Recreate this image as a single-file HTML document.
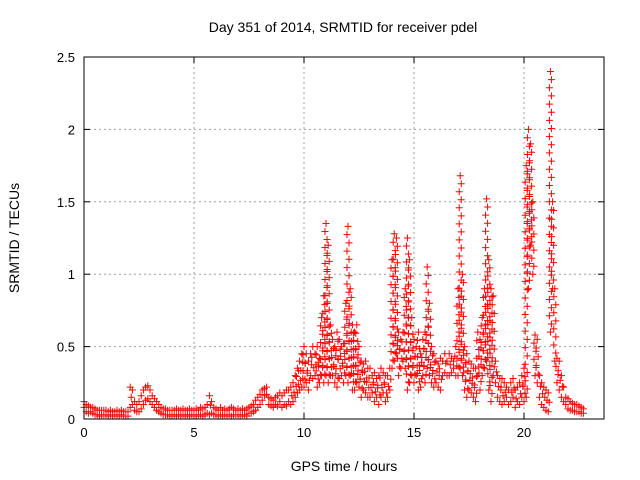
<!DOCTYPE html>
<html><head><meta charset="utf-8"><style>
html,body{margin:0;padding:0;background:#fff}
svg{display:block;font-family:"Liberation Sans",sans-serif}
</style></head><body>
<svg id="c" width="640" height="480">
<text x="343" y="32" font-size="14" text-anchor="middle">Day 351 of 2014, SRMTID for receiver pdel</text>
<text x="344" y="471" font-size="14" text-anchor="middle">GPS time / hours</text>
<text transform="translate(19,238) rotate(-90)" font-size="14" text-anchor="middle">SRMTID / TECUs</text>
<g id="grid"></g><g id="ticks"></g><g id="marks"></g>
<rect x="84" y="57" width="520" height="362" fill="none" stroke="#000"/>
</svg>
<script>
const xTicks=[0,5,10,15,20];
const yTicks=[0,0.5,1,1.5,2,2.5];
const yTickLabels=["0","0.5","1","1.5","2","2.5"];
const tStep=0.1;
const lo=[0.08,0.05,0.04,0.05,0.04,0.03,0.03,0.02,0.03,0.03,
0.03,0.02,0.03,0.02,0.03,0.02,0.02,0.03,0.02,0.02,
0.02,0.08,0.1,0.06,0.05,0.05,0.07,0.1,0.13,0.14,
0.12,0.1,0.08,0.06,0.05,0.04,0.03,0.03,0.03,0.02,
0.02,0.03,0.02,0.03,0.02,0.03,0.02,0.03,0.02,0.03,
0.03,0.02,0.03,0.03,0.02,0.03,0.04,0.03,0.04,0.03,
0.03,0.02,0.03,0.02,0.03,0.02,0.03,0.02,0.03,0.03,
0.03,0.02,0.03,0.03,0.02,0.04,0.04,0.05,0.06,0.08,
0.1,0.13,0.16,0.17,0.1,0.09,0.08,0.1,0.09,0.12,
0.08,0.1,0.09,0.12,0.1,0.12,0.15,0.18,0.2,0.22,
0.22,0.25,0.2,0.3,0.28,0.3,0.22,0.25,0.3,0.25,
0.3,0.25,0.3,0.3,0.25,0.22,0.28,0.3,0.25,0.3,
0.25,0.3,0.2,0.2,0.25,0.22,0.15,0.2,0.18,0.15,
0.15,0.18,0.12,0.15,0.1,0.15,0.18,0.12,0.15,0.2,
0.35,0.4,0.45,0.3,0.35,0.4,0.35,0.2,0.25,0.3,
0.25,0.3,0.2,0.22,0.3,0.25,0.35,0.3,0.25,0.22,
0.25,0.22,0.2,0.3,0.32,0.3,0.3,0.32,0.35,0.3,
0.3,0.35,0.3,0.2,0.15,0.2,0.18,0.15,0.12,0.3,
0.2,0.3,0.35,0.4,0.2,0.12,0.3,0.25,0.15,0.12,
0.1,0.12,0.15,0.1,0.12,0.15,0.08,0.12,0.1,0.15,
0.12,0.15,0.9,1.2,1.0,0.3,0.25,0.15,0.1,0.08,
0.06,0.05,0.6,0.9,0.4,0.25,0.2,0.15,0.12,0.1,
0.07,0.06,0.06,0.05,0.05,0.05,0.04,0.04];
const hi=[0.12,0.1,0.09,0.08,0.08,0.07,0.06,0.06,0.06,0.06,
0.06,0.05,0.06,0.05,0.05,0.06,0.05,0.06,0.05,0.05,
0.05,0.22,0.2,0.12,0.1,0.12,0.16,0.2,0.22,0.23,
0.2,0.16,0.14,0.12,0.1,0.08,0.07,0.07,0.06,0.06,
0.06,0.06,0.07,0.06,0.06,0.07,0.06,0.06,0.07,0.06,
0.06,0.07,0.06,0.08,0.07,0.08,0.1,0.16,0.12,0.08,
0.07,0.06,0.08,0.06,0.07,0.06,0.07,0.08,0.07,0.06,
0.07,0.06,0.07,0.06,0.07,0.08,0.09,0.1,0.13,0.15,
0.17,0.2,0.21,0.22,0.15,0.14,0.13,0.15,0.16,0.18,
0.16,0.18,0.2,0.2,0.22,0.25,0.3,0.35,0.4,0.45,
0.5,0.45,0.4,0.45,0.5,0.45,0.5,0.42,0.7,0.85,
1.35,1.2,0.65,0.55,0.5,0.6,0.55,0.5,0.52,0.8,
1.33,0.9,0.65,0.6,0.65,0.5,0.4,0.38,0.4,0.35,
0.35,0.3,0.32,0.28,0.3,0.35,0.32,0.3,0.3,0.35,
1.1,1.28,1.25,0.6,0.55,0.6,0.9,1.25,1.1,0.7,
0.55,0.5,0.6,0.45,0.55,0.6,1.05,0.8,0.5,0.45,
0.4,0.38,0.42,0.4,0.45,0.4,0.45,0.42,0.4,0.5,
0.9,1.68,1.0,0.5,0.45,0.4,0.38,0.35,0.35,0.6,
0.55,0.7,0.9,1.52,1.1,0.9,0.85,0.4,0.3,0.28,
0.28,0.25,0.22,0.2,0.25,0.28,0.2,0.22,0.25,0.3,
0.35,1.75,2.0,1.9,1.5,0.58,0.55,0.3,0.25,0.22,
0.2,0.18,2.4,1.5,0.9,0.42,0.4,0.3,0.22,0.15,
0.14,0.12,0.11,0.1,0.1,0.09,0.08,0.07];
const X0=84,X1=604,Y0=419,Y1=57,xMax=23.636,yMax=2.5;
const xs=v=>X0+v/xMax*(X1-X0);
const ys=v=>Y0-v/yMax*(Y0-Y1);
const NS="http://www.w3.org/2000/svg";
function mk(tag,attrs,parent){const e=document.createElementNS(NS,tag);for(const k in attrs)e.setAttribute(k,attrs[k]);parent.appendChild(e);return e;}
const grid=document.getElementById('grid'),ticks=document.getElementById('ticks'),marks=document.getElementById('marks');
xTicks.forEach(v=>{const x=xs(v);
 if(v>0){const g=mk('line',{x1:x,x2:x,y1:Y1,y2:Y0,stroke:'#a0a0a0','stroke-dasharray':'2,3'},grid);
 
 }
 mk('line',{x1:x,x2:x,y1:Y0,y2:Y0-6,stroke:'#000'},ticks);
 mk('line',{x1:x,x2:x,y1:Y1,y2:Y1+6,stroke:'#000'},ticks);
 const t=mk('text',{x:x,y:Y0+18,'font-size':13,'text-anchor':'middle'},ticks);t.textContent=v;
 
 
});
yTicks.forEach((v,i)=>{const y=ys(v);
 if(v>0&&v<yMax){const g=mk('line',{x1:X0,x2:X1,y1:y,y2:y,stroke:'#a0a0a0','stroke-dasharray':'2,3'},grid);
 
 }
 mk('line',{x1:X0,x2:X0+6,y1:y,y2:y,stroke:'#000'},ticks);
 mk('line',{x1:X1,x2:X1-6,y1:y,y2:y,stroke:'#000'},ticks);
 const t=mk('text',{x:X0-9,y:y+5,'font-size':13,'text-anchor':'end'},ticks);t.textContent=yTickLabels[i];
 
 
});
let d='';
function plus(x,y){d+=`M${(x-3.5).toFixed(1)} ${y.toFixed(1)}h7M${x.toFixed(1)} ${(y-3.5).toFixed(1)}v7`;}
lo.forEach((l,i)=>{const t=i*tStep,x=xs(t),yl=ys(l),yh=ys(hi[i]);
 plus(x,yl);plus(x,yh);
 const span=yl-yh;const n=Math.floor(span/8);
 for(let k=1;k<n;k++)plus(x+((k%2)?1:-1),yl-span*k/n);
});
const p=mk('path',{d:d,stroke:'#ff0000','stroke-width':1,fill:'none'},marks);


</script>
</body></html>
